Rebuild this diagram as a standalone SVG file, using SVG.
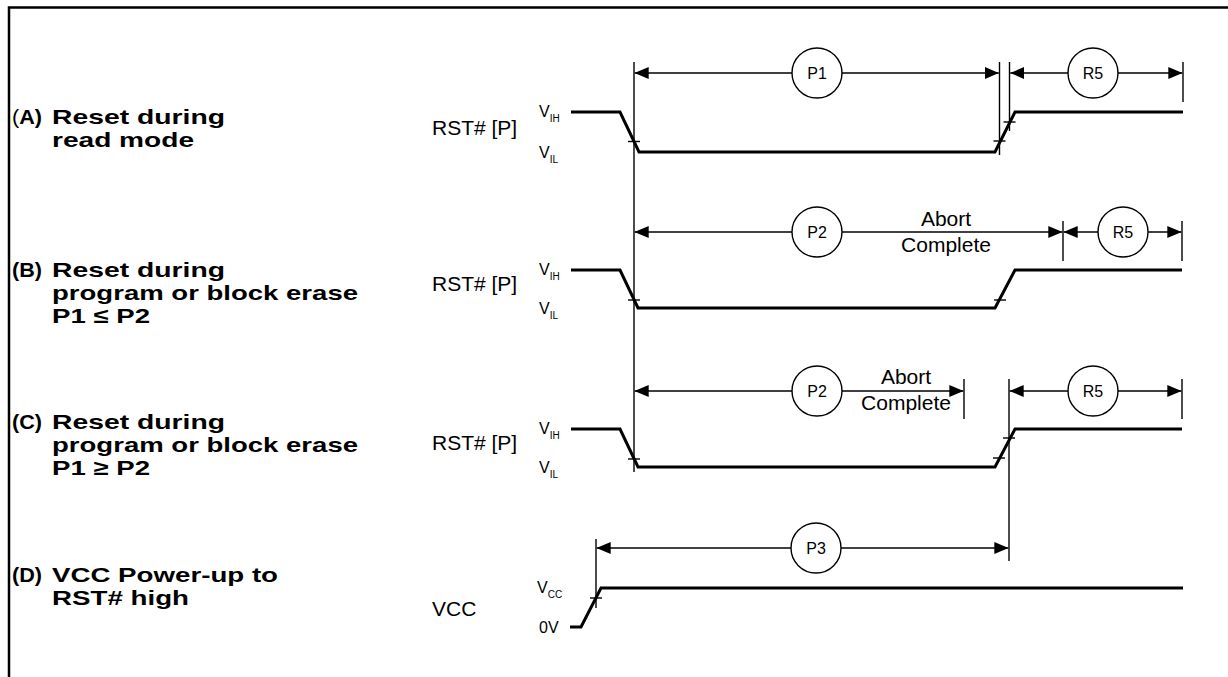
<svg xmlns="http://www.w3.org/2000/svg" width="1228" height="677" viewBox="0 0 1228 677">
<style>
.lbl{font-family:"Liberation Sans",Arial,sans-serif;font-weight:bold;font-size:21px;fill:#000}
.nb{font-weight:normal}
.sig{font-family:"Liberation Sans",Arial,sans-serif;font-size:21px;fill:#000}
.lv{font-family:"Liberation Sans",Arial,sans-serif;font-size:16px;fill:#000}
.sub{font-size:10px}
.ct{font-family:"Liberation Sans",Arial,sans-serif;font-size:16px;fill:#000;text-anchor:middle}
.ab{font-family:"Liberation Sans",Arial,sans-serif;font-size:21px;fill:#000;text-anchor:middle}
.wave{fill:none;stroke:#000;stroke-width:3;stroke-linejoin:miter}
.thin{fill:none;stroke:#000;stroke-width:1.4}
.dim{fill:none;stroke:#000;stroke-width:1.4;marker-end:url(#ah)}
.circ{fill:#fff;stroke:#000;stroke-width:1.4}
.frame{fill:none;stroke:#000;stroke-width:2.5}
</style>
<defs>
<marker id="ah" viewBox="0 0 14 12" refX="14" refY="6" markerWidth="14" markerHeight="12" markerUnits="userSpaceOnUse" orient="auto"><path d="M0,0 L14,6 L0,12 z" fill="#000"/></marker>
</defs>
<rect x="0" y="0" width="1228" height="677" fill="#fff"/>
<path class="frame" d="M9,680 L9,7.5 L1232,7.5"/>

<g id="labels">
<text class="lbl" x="12" y="124" textLength="30" lengthAdjust="spacingAndGlyphs"><tspan class="nb">(</tspan>A)</text>
<text class="lbl" x="52" y="124" textLength="173" lengthAdjust="spacingAndGlyphs">Reset during</text>
<text class="lbl" x="52" y="147" textLength="142" lengthAdjust="spacingAndGlyphs">read mode</text>
<text class="lbl" x="12" y="277" textLength="30" lengthAdjust="spacingAndGlyphs">(B)</text>
<text class="lbl" x="52" y="277" textLength="173" lengthAdjust="spacingAndGlyphs">Reset during</text>
<text class="lbl" x="52" y="300" textLength="306" lengthAdjust="spacingAndGlyphs">program or block erase</text>
<text class="lbl" x="52" y="323" textLength="98" lengthAdjust="spacingAndGlyphs">P1 ≤ P2</text>
<text class="lbl" x="12" y="429" textLength="30" lengthAdjust="spacingAndGlyphs">(C)</text>
<text class="lbl" x="52" y="429" textLength="173" lengthAdjust="spacingAndGlyphs">Reset during</text>
<text class="lbl" x="52" y="452" textLength="306" lengthAdjust="spacingAndGlyphs">program or block erase</text>
<text class="lbl" x="52" y="475" textLength="98" lengthAdjust="spacingAndGlyphs">P1 ≥ P2</text>
<text class="lbl" x="12" y="582" textLength="30" lengthAdjust="spacingAndGlyphs">(D)</text>
<text class="lbl" x="52" y="582" textLength="226" lengthAdjust="spacingAndGlyphs">VCC Power-up to</text>
<text class="lbl" x="52" y="605" textLength="137" lengthAdjust="spacingAndGlyphs">RST# high</text>
</g>

<g id="rowA">
<text class="sig" x="432" y="135">RST# [P]</text>
<text class="lv" x="539" y="117">V<tspan class="sub" dy="5">IH</tspan></text>
<text class="lv" x="539" y="158">V<tspan class="sub" dy="5">IL</tspan></text>
<path class="wave" d="M571,112 L620,112 L639,152 L995,152 L1015,112 L1183,112"/>
</g>

<g id="rowB">
<text class="sig" x="432" y="291">RST# [P]</text>
<text class="lv" x="539" y="275">V<tspan class="sub" dy="5">IH</tspan></text>
<text class="lv" x="539" y="314">V<tspan class="sub" dy="5">IL</tspan></text>
<path class="wave" d="M571,270 L620,270 L638,308 L995,308 L1015,270 L1182,270"/>
</g>

<g id="rowC">
<text class="sig" x="432" y="450">RST# [P]</text>
<text class="lv" x="539" y="434">V<tspan class="sub" dy="5">IH</tspan></text>
<text class="lv" x="539" y="473">V<tspan class="sub" dy="5">IL</tspan></text>
<path class="wave" d="M571,429 L620,429 L638,467 L995,467 L1015,429 L1182,429"/>
</g>

<g id="rowD">
<text class="sig" x="432" y="616">VCC</text>
<text class="lv" x="537" y="593">V<tspan class="sub" dy="5">CC</tspan></text>
<text class="lv" x="539" y="633">0V</text>
<path class="wave" d="M570,627 L581,627 L601,588 L1183,588"/>
</g>

<g id="connectors">
<line class="thin" x1="634" y1="62" x2="634" y2="472"/>
<line class="thin" x1="999.5" y1="62" x2="999.5" y2="155"/>
<line class="thin" x1="1009.5" y1="62" x2="1009.5" y2="131"/>
<line class="thin" x1="1183" y1="62" x2="1183" y2="102"/>
<line class="thin" x1="1063" y1="221" x2="1063" y2="261"/>
<line class="thin" x1="1182" y1="221" x2="1182" y2="261"/>
<line class="thin" x1="964" y1="379" x2="964" y2="419"/>
<line class="thin" x1="1009" y1="379" x2="1009" y2="561"/>
<line class="thin" x1="1182" y1="379" x2="1182" y2="419"/>
<line class="thin" x1="596" y1="539" x2="596" y2="608"/>
<line class="thin" x1="628" y1="141.5" x2="640" y2="141.5"/>
<line class="thin" x1="993.5" y1="141" x2="1005.5" y2="141"/>
<line class="thin" x1="1003.5" y1="122" x2="1015.5" y2="122"/>
<line class="thin" x1="628" y1="300" x2="640" y2="300"/>
<line class="thin" x1="994" y1="300" x2="1006" y2="300"/>
<line class="thin" x1="628" y1="459" x2="640" y2="459"/>
<line class="thin" x1="993" y1="458" x2="1005" y2="458"/>
<line class="thin" x1="1003" y1="438" x2="1015" y2="438"/>
<line class="thin" x1="590" y1="598" x2="602" y2="598"/>
<line class="dim" x1="792" y1="73" x2="634.7" y2="73"/>
<line class="dim" x1="842" y1="73" x2="998.8" y2="73"/>
<line class="dim" x1="1068" y1="73" x2="1010.2" y2="73"/>
<line class="dim" x1="1118" y1="73" x2="1182.3" y2="73"/>
<line class="dim" x1="792" y1="232" x2="634.7" y2="232"/>
<line class="dim" x1="842" y1="232" x2="1062.3" y2="232"/>
<line class="dim" x1="1098" y1="232" x2="1063.7" y2="232"/>
<line class="dim" x1="1148" y1="232" x2="1181.3" y2="232"/>
<line class="dim" x1="792" y1="391" x2="634.7" y2="391"/>
<line class="dim" x1="842" y1="391" x2="963.3" y2="391"/>
<line class="dim" x1="1068" y1="391" x2="1009.7" y2="391"/>
<line class="dim" x1="1118" y1="391" x2="1181.3" y2="391"/>
<line class="dim" x1="791" y1="548" x2="596.7" y2="548"/>
<line class="dim" x1="841" y1="548" x2="1008.3" y2="548"/>
</g>

<g id="circles">
<circle class="circ" cx="817" cy="73" r="25"/><text class="ct" x="817" y="79">P1</text>
<circle class="circ" cx="1093" cy="73" r="25"/><text class="ct" x="1093" y="79">R5</text>
<circle class="circ" cx="817" cy="232" r="25"/><text class="ct" x="817" y="238">P2</text>
<circle class="circ" cx="1123" cy="232" r="25"/><text class="ct" x="1123" y="238">R5</text>
<circle class="circ" cx="817" cy="391" r="25"/><text class="ct" x="817" y="397">P2</text>
<circle class="circ" cx="1093" cy="391" r="25"/><text class="ct" x="1093" y="397">R5</text>
<circle class="circ" cx="816" cy="548" r="25"/><text class="ct" x="816" y="554">P3</text>
</g>

<g id="notes">
<text class="ab" x="946" y="226">Abort</text>
<text class="ab" x="946" y="252">Complete</text>
<text class="ab" x="906" y="384">Abort</text>
<text class="ab" x="906" y="410">Complete</text>
</g>
</svg>
